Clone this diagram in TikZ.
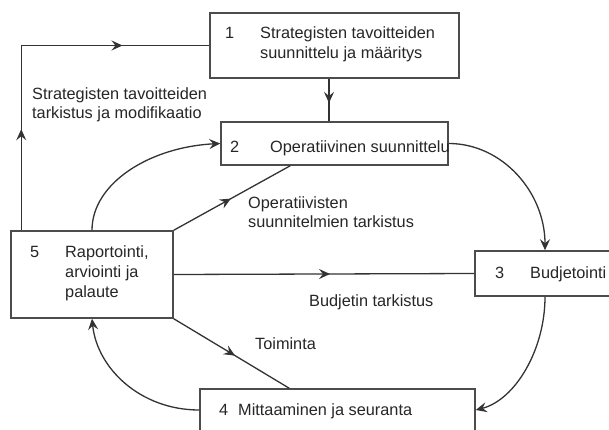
\documentclass[tikz,border=0pt]{standalone}
\usepackage{fontspec}
\setmainfont{Liberation Sans}
\usetikzlibrary{arrows.meta,decorations.markings,calc}
\newcommand{\txtlines}[1]{\begin{tabular}[t]{@{}l@{}}#1\end{tabular}}

\begin{document}
\begin{tikzpicture}[x=1pt,y=1pt,
  box/.style={draw=black!70, line width=1.5pt, inner sep=0pt},
  txt/.style={anchor=base west, inner sep=0pt, text=black!85,
              font=\fontsize{16.3}{19.5}\selectfont},
  link/.style={draw=black!80, line width=1.3pt},
  head/.tip={Stealth[length=11pt,width=10pt,inset=4pt]},
  tipend/.style={-head},
  midarrow/.style={postaction={decorate},
    decoration={markings, mark=at position #1 with {\arrow{head}}}},
  twoarrows/.style 2 args={postaction={decorate},
    decoration={markings, mark=at position #1 with {\arrow{head}},
                          mark=at position #2 with {\arrow{head}}}}]

\useasboundingbox (0,0) rectangle (609,-430);
\fill[white] (0,0) rectangle (609,-430);
\clip (0,0) rectangle (609,-430);

% process boxes
\node[box, minimum width=249pt, minimum height=65pt] (b1) at (334.5,-45.5) {};
\node[box, minimum width=227pt, minimum height=43pt] (b2) at (334.5,-143.5) {};
\node[box, minimum width=140pt, minimum height=45pt] (b3) at (545,-273.5) {};
\node[box, minimum width=275pt, minimum height=42pt] (b4) at (337.5,-410) {};
\node[box, minimum width=162pt, minimum height=87pt] (b5) at (92,-274.5) {};

% box texts
\node[txt] (n1) at (225,-39) {1};
\node[txt] (t1) at (260,-39) {\txtlines{Strategisten tavoitteiden\\suunnittelu ja määritys}};
\node[txt] (n2) at (230,-153) {2};
\node[txt] (t2) at (270,-153) {Operatiivinen suunnittelu};
\node[txt] (n3) at (495,-278) {3};
\node[txt] (t3) at (530,-278) {Budjetointi};
\node[txt] (n4) at (219,-415) {4};
\node[txt] (t4) at (238,-415) {Mittaaminen ja seuranta};
\node[txt] (n5) at (30,-257) {5};
\node[txt, font=\fontsize{16.3}{20}\selectfont] (t5) at (65,-257)
  {\txtlines{Raportointi,\\arviointi ja\\palaute}};

% connector labels
\node[txt, font=\fontsize{16.3}{18.5}\selectfont] (l1) at (32,-100)
  {\txtlines{Strategisten tavoitteiden\\tarkistus ja modifikaatio}};
\node[txt, font=\fontsize{16.3}{19}\selectfont] (l2) at (248,-208)
  {\txtlines{Operatiivisten\\suunnitelmien tarkistus}};
\node[txt] (l3) at (309,-306) {Budjetin tarkistus};
\node[txt] (l4) at (255,-349) {Toiminta};

% feedback loop to strategic goals
\coordinate (c1) at ($(b5.north west)+(11,0)$);
\draw[link, twoarrows={101pt}{286pt}] (c1) |- (b1.west);

% straight connectors
\draw[link, midarrow=0.57] ($(b1.south)+(-5.5,0)$) -- ($(b2.north)+(-5.5,0)$);
\draw[link, midarrow=0.49] (b5.north east) -- ($(b2.south west)+(70,0)$);
\draw[link, midarrow=0.52] (b5.east) -- (b3.west);
\draw[link, midarrow=0.53] (b5.south east) -- ($(b4.north west)+(90,0)$);

% curved cycle
\draw[link, tipend] (b5.north) .. controls (92,-183) and (150,-147) .. (b2.west);
\draw[link, tipend] (b2.east) .. controls (502,-143.5) and (545,-192) .. (b3.north);
\draw[link, tipend] (b3.south) .. controls (545,-350) and (515,-400) .. (b4.east);
\draw[link, tipend] (b4.west) .. controls (140,-410) and (97,-368) .. (b5.south);

\end{tikzpicture}
\end{document}
